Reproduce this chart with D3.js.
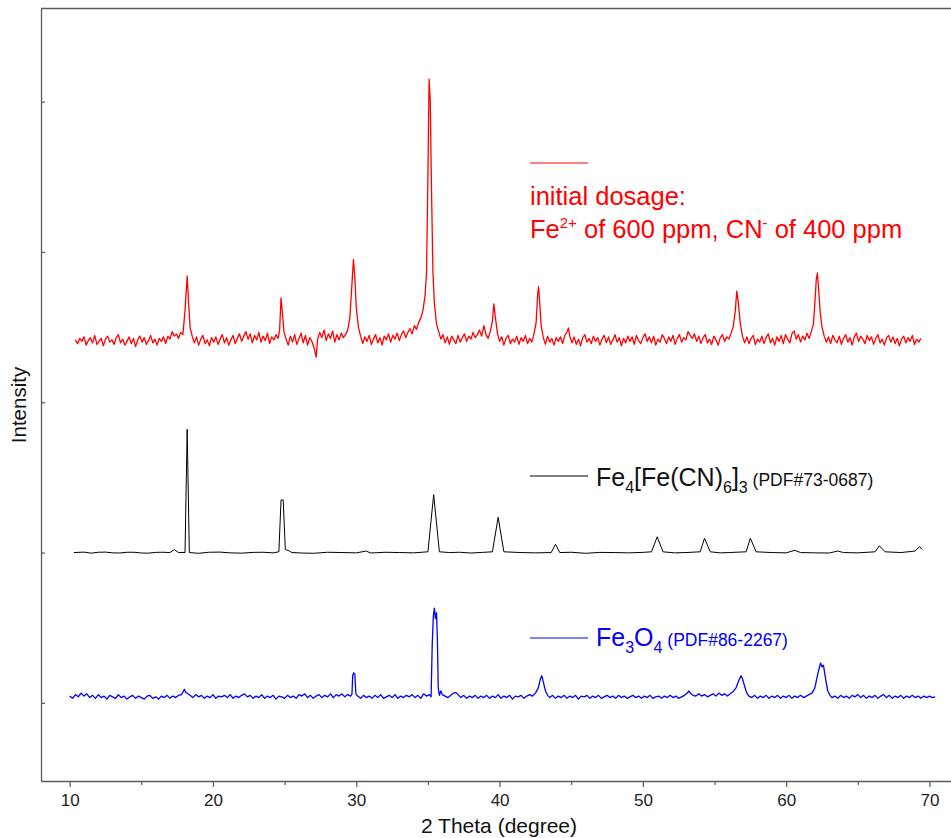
<!DOCTYPE html>
<html>
<head>
<script src="https://d3js.org/d3.v7.min.js"></script>
<style>
  body { margin: 0; background: #fff; }
  svg text { font-family: "Liberation Sans", Arial, sans-serif; }
</style>
</head>
<body>
<svg id="chart" width="951" height="838"></svg>
<script>
// XRD patterns, [2theta, intensity] pairs
var initialDosage = [[10.4,5],[10.55,-20],[10.7,15],[10.85,-5],[11.0,25],[11.15,-30],[11.3,0],[11.45,20],[11.6,-15],[11.75,35],[11.9,-25],[12.05,-5],[12.2,15],[12.35,-35],[12.5,10],[12.65,30],[12.8,-10],[12.95,5],[13.1,-25],[13.25,20],[13.4,40],[13.55,-15],[13.7,10],[13.85,-30],[14.0,-5],[14.15,25],[14.3,-20],[14.45,15],[14.6,-40],[14.75,5],[14.9,30],[15.05,-10],[15.2,20],[15.35,-25],[15.5,0],[15.65,35],[15.8,-15],[15.95,10],[16.1,-30],[16.25,15],[16.4,-5],[16.55,25],[16.7,-20],[16.85,30],[17.0,10],
[17.15,60],[17.3,30],[17.45,45],[17.6,15],[17.75,55],[17.9,40],[18.05,200],[18.2,430],[18.3,250],[18.4,90],[18.55,30],[18.7,-15],[18.85,25],[19.0,-30],[19.15,10],[19.3,35],[19.45,-20],[19.6,5],[19.75,-35],[19.9,20],[20.05,-10],[20.2,25],[20.35,-25],[20.5,10],[20.65,40],[20.8,-15],[20.95,20],[21.1,-30],[21.25,5],[21.4,35],[21.55,-20],[21.7,15],[21.85,45],[22.0,-5],[22.15,30],[22.3,60],[22.45,10],[22.6,45],[22.75,-15],[22.9,35],[23.05,5],[23.2,55],[23.35,-10],[23.5,30],[23.65,0],[23.8,50],[23.95,-20],[24.1,25],[24.25,5],[24.4,40],[24.55,15],[24.65,70],[24.75,285],[24.85,180],[24.95,60],[25.1,10],[25.25,-30],[25.4,30],[25.55,-10],[25.7,40],[25.85,-25],[26.0,15],[26.15,50],[26.3,-15],[26.45,35],[26.6,-30],[26.75,20],[26.9,-5],[27.05,-45],[27.2,-110],[27.3,10],[27.45,55],[27.6,20],[27.75,70],[27.9,0],[28.05,45],[28.2,15],[28.35,65],[28.5,-10],[28.65,40],[28.8,5],[28.95,50],[29.1,20],[29.25,40],[29.4,70],[29.55,150],[29.7,380],[29.8,540],[29.9,420],[30.0,220],[30.15,90],[30.3,30],[30.45,-20],[30.6,25],[30.75,-5],[30.9,35],[31.05,-25],[31.2,10],[31.35,40],[31.5,-15],[31.65,20],[31.8,-30],[31.95,30],[32.1,5],[32.25,45],[32.4,-10],[32.55,35],[32.7,10],[32.85,50],[33.0,0],[33.15,40],[33.3,65],[33.45,20],[33.6,55],[33.75,80],[33.9,45],[34.05,100],[34.2,75],[34.35,120],[34.5,150],[34.65,200],[34.8,300],[34.9,450],[35.0,1100],[35.08,1740],[35.16,1600],[35.25,1000],[35.35,450],[35.45,250],[35.6,110],[35.75,60],[35.9,10],[36.05,40],[36.2,-15],[36.35,25],[36.5,-25],[36.65,30],[36.8,5],[36.95,-20],[37.1,35],[37.25,-10],[37.4,20],[37.55,45],[37.7,-5],[37.85,30],[38.0,10],[38.15,55],[38.3,20],[38.45,40],[38.6,70],[38.75,30],[38.9,100],[39.05,40],[39.2,15],[39.35,60],[39.5,130],[39.6,245],[39.7,160],[39.85,50],[40.0,-5],[40.15,25],[40.3,-30],[40.45,15],[40.6,35],[40.75,-20],[40.9,10],[41.05,-10],[41.2,30],[41.35,-25],[41.5,20],[41.65,-5],[41.8,35],[41.95,-20],[42.1,15],[42.25,-10],[42.4,45],[42.55,120],[42.65,300],[42.72,360],[42.8,250],[42.9,100],[43.05,20],[43.2,-25],[43.35,30],[43.5,-10],[43.65,15],[43.8,-30],[43.95,20],[44.1,-5],[44.25,25],[44.4,-20],[44.55,35],[44.7,55],[44.8,85],[44.9,30],[45.05,-15],[45.2,25],[45.35,-25],[45.5,10],[45.65,-35],[45.8,20],[45.95,40],[46.1,-10],[46.25,15],[46.4,-20],[46.55,30],[46.7,-5],[46.85,20],[47.0,-30],[47.15,10],[47.3,35],[47.45,-15],[47.6,25],[47.75,-25],[47.9,5],[48.05,40],[48.2,-10],[48.35,20],[48.5,-35],[48.65,15],[48.8,-15],[48.95,30],[49.1,-5],[49.25,25],[49.4,-25],[49.55,35],[49.7,0],[49.85,-20],[50.0,20],[50.15,45],[50.3,-5],[50.45,25],[50.6,-15],[50.75,30],[50.9,-30],[51.05,10],[51.2,-10],[51.35,40],[51.5,15],[51.65,-20],[51.8,25],[51.95,-5],[52.1,35],[52.25,-25],[52.4,15],[52.55,40],[52.7,-10],[52.85,20],[53.0,5],[53.15,60],[53.3,35],[53.45,15],[53.6,45],[53.75,-5],[53.9,30],[54.05,-20],[54.2,20],[54.35,40],[54.5,-15],[54.65,10],[54.8,-25],[54.95,30],[55.1,5],[55.25,-30],[55.4,20],[55.55,40],[55.7,-5],[55.85,25],[56.0,10],[56.15,50],[56.3,90],[56.45,200],[56.55,330],[56.65,260],[56.8,110],[56.95,30],[57.1,-15],[57.25,25],[57.4,-20],[57.55,15],[57.7,35],[57.85,-25],[58.0,10],[58.15,-10],[58.3,30],[58.45,-20],[58.6,20],[58.75,45],[58.9,-15],[59.05,15],[59.2,-30],[59.35,25],[59.5,-5],[59.65,35],[59.8,-20],[59.95,40],[60.1,10],[60.25,-15],[60.4,45],[60.55,65],[60.7,10],[60.85,40],[61.0,-10],[61.15,30],[61.3,5],[61.45,50],[61.6,15],[61.75,60],[61.9,110],[62.0,250],[62.1,410],[62.18,450],[62.27,330],[62.38,180],[62.5,90],[62.65,30],[62.8,-10],[62.95,25],[63.1,-20],[63.25,35],[63.4,5],[63.55,-15],[63.7,30],[63.85,-25],[64.0,15],[64.15,40],[64.3,-10],[64.45,20],[64.6,-30],[64.75,25],[64.9,50],[65.05,-5],[65.2,30],[65.35,10],[65.5,-20],[65.65,35],[65.8,0],[65.95,25],[66.1,-25],[66.25,15],[66.4,40],[66.55,-15],[66.7,10],[66.85,-30],[67.0,20],[67.15,35],[67.3,-10],[67.45,25],[67.6,-20],[67.75,15],[67.9,-35],[68.05,10],[68.2,30],[68.35,-15],[68.5,20],[68.65,-5],[68.8,35],[68.95,-25],[69.1,10],[69.25,-10],[69.4,15]];

var prussianBlue = [[10.3,0],[11.0,3],[11.5,-4],[12.0,2],[12.5,3],[13.0,-2],[13.5,-3],[14.0,2],[14.5,2],[15.0,-3],[15.5,-4],[16.0,1],[16.5,2],[17.0,0],[17.3,20],[17.6,0],[18.05,0],[18.2,820],[18.35,0],[19.0,-5],[19.7,2],[20.5,3],[21.2,-2],[22.0,-4],[22.8,1],[23.5,2],[24.2,-2],[24.6,5],[24.75,350],[24.9,350],[25.05,20],[25.3,12],[25.5,0],[26.2,-3],[27.0,-5],[28.0,2],[29.0,0],[30.0,-2],[30.7,10],[31.0,-3],[32.0,2],[33.0,0],[34.0,-2],[35.0,5],[35.4,385],[35.8,5],[36.5,0],[37.2,2],[38.0,-3],[38.8,1],[39.5,5],[39.9,235],[40.3,5],[41.5,0],[42.5,-2],[43.6,0],[43.9,55],[44.2,0],[45.0,2],[46.0,-5],[47.0,1],[48.0,0],[49.0,-2],[50.0,1],[50.6,5],[51.0,105],[51.4,5],[52.2,-2],[53.0,0],[54.0,5],[54.3,95],[54.7,5],[55.4,-2],[56.0,0],[57.2,5],[57.5,95],[57.9,5],[59.0,0],[60.0,-2],[60.6,15],[61.0,0],[62.0,-2],[63.0,-3],[63.6,10],[64.0,0],[65.0,-2],[66.2,5],[66.5,45],[66.9,5],[68.0,0],[69.0,10],[69.3,40],[69.5,20]];

var magnetite = [[10.0,5],[10.2,-10],[10.4,15],[10.6,0],[10.8,25],[11.0,5],[11.2,20],[11.4,-5],[11.6,10],[11.8,-10],[12.0,15],[12.2,-5],[12.4,5],[12.6,-15],[12.8,10],[13.0,0],[13.2,-10],[13.4,15],[13.6,-5],[13.8,5],[14.0,-15],[14.2,0],[14.4,10],[14.6,-10],[14.8,5],[15.0,-5],[15.2,-15],[15.4,5],[15.6,10],[15.8,-10],[16.0,0],[16.2,-15],[16.4,5],[16.6,-5],[16.8,10],[17.0,-10],[17.2,5],[17.4,-5],[17.6,10],[17.8,15],[17.9,30],[18.0,50],[18.1,30],[18.25,20],[18.4,10],[18.6,-5],[18.8,15],[19.0,0],[19.2,10],[19.4,-10],[19.6,5],[19.8,-5],[20.0,15],[20.2,-10],[20.4,5],[20.6,0],[20.8,10],[21.0,-5],[21.2,15],[21.4,-10],[21.6,5],[21.8,-5],[22.0,10],[22.2,20],[22.4,0],[22.6,10],[22.8,-10],[23.0,5],[23.2,-5],[23.4,15],[23.6,-10],[23.8,5],[24.0,-5],[24.2,10],[24.4,-15],[24.6,5],[24.8,0],[25.0,-10],[25.2,10],[25.4,-5],[25.6,5],[25.8,-10],[26.0,15],[26.2,5],[26.4,20],[26.6,-5],[26.8,10],[27.0,-10],[27.2,5],[27.4,15],[27.6,-5],[27.8,10],[28.0,0],[28.2,20],[28.4,-5],[28.6,15],[28.8,5],[29.0,20],[29.2,0],[29.4,15],[29.6,5],[29.7,20],[29.75,140],[29.82,160],[29.9,150],[29.97,20],[30.1,5],[30.3,-10],[30.5,10],[30.7,-5],[30.9,5],[31.1,-10],[31.3,10],[31.5,-5],[31.7,15],[31.9,-10],[32.1,0],[32.3,10],[32.5,-5],[32.7,15],[32.9,-10],[33.1,5],[33.3,-5],[33.5,10],[33.7,0],[33.9,15],[34.1,-5],[34.3,10],[34.5,-10],[34.7,20],[34.9,5],[35.1,15],[35.22,0],[35.3,350],[35.38,540],[35.45,590],[35.52,520],[35.6,560],[35.66,380],[35.72,60],[35.8,10],[35.9,40],[36.0,15],[36.2,5],[36.4,-5],[36.6,10],[36.8,25],[36.95,30],[37.1,15],[37.3,-5],[37.5,10],[37.7,-10],[37.9,5],[38.1,-5],[38.3,10],[38.5,-10],[38.7,5],[38.9,-5],[39.1,10],[39.3,-10],[39.5,5],[39.7,-5],[39.9,15],[40.1,-10],[40.3,5],[40.5,-5],[40.7,10],[40.9,-15],[41.1,5],[41.3,0],[41.5,10],[41.7,-10],[41.9,5],[42.1,15],[42.3,5],[42.5,25],[42.7,60],[42.85,120],[42.95,140],[43.05,100],[43.2,40],[43.35,10],[43.5,-5],[43.7,10],[43.9,-10],[44.1,5],[44.3,-5],[44.5,10],[44.7,-10],[44.9,5],[45.1,-5],[45.3,10],[45.5,-15],[45.7,5],[45.9,0],[46.1,10],[46.3,-10],[46.5,5],[46.7,-5],[46.9,10],[47.1,-10],[47.3,0],[47.5,10],[47.7,-5],[47.9,5],[48.1,-10],[48.3,10],[48.5,-5],[48.7,5],[48.9,-10],[49.1,0],[49.3,10],[49.5,-5],[49.7,5],[49.9,-10],[50.1,5],[50.3,-5],[50.5,10],[50.7,-10],[50.9,0],[51.1,5],[51.3,-10],[51.5,5],[51.7,-5],[51.9,10],[52.1,-5],[52.3,5],[52.5,-10],[52.7,0],[52.9,10],[53.1,25],[53.2,40],[53.35,20],[53.5,10],[53.7,5],[53.9,20],[54.1,5],[54.3,15],[54.5,0],[54.7,10],[54.9,20],[55.1,5],[55.3,25],[55.5,10],[55.7,20],[55.9,5],[56.1,20],[56.3,35],[56.5,60],[56.7,110],[56.85,140],[56.95,120],[57.1,70],[57.25,25],[57.4,5],[57.6,-5],[57.8,10],[58.0,-10],[58.2,5],[58.4,-5],[58.6,10],[58.8,-10],[59.0,5],[59.2,-5],[59.4,10],[59.6,-10],[59.8,5],[60.0,-5],[60.2,10],[60.4,-10],[60.6,5],[60.8,-5],[61.0,10],[61.2,-5],[61.4,5],[61.6,15],[61.8,25],[62.0,60],[62.15,130],[62.3,190],[62.4,225],[62.5,200],[62.6,210],[62.75,120],[62.9,40],[63.05,10],[63.2,-5],[63.4,5],[63.6,-10],[63.8,10],[64.0,-5],[64.2,5],[64.4,-10],[64.6,10],[64.8,0],[65.0,15],[65.2,-5],[65.4,10],[65.6,-10],[65.8,5],[66.0,-5],[66.2,10],[66.4,-10],[66.6,5],[66.8,15],[67.0,-5],[67.2,10],[67.4,-10],[67.6,5],[67.8,-5],[68.0,10],[68.2,-10],[68.4,5],[68.6,-5],[68.8,10],[69.0,-5],[69.2,5],[69.4,-10],[69.6,5],[69.8,-5],[70.0,5],[70.2,-5],[70.4,0]];

// vertical offsets used to stack the three patterns
var offsets = [2410, 1000, 40];
var xTicks = [10, 20, 30, 40, 50, 60, 70];
var xMinorTicks = [15, 25, 35, 45, 55, 65];
var yTicks = [0, 1000, 2000, 3000, 4000];

var svg = d3.select("#chart");
var plotLeft = 41, plotRight = 951, plotTop = 8.5, plotBottom = 781;

var x = d3.scaleLinear().domain([8, 71.5]).range([plotLeft, plotRight]);
var y = d3.scaleLinear().domain([-520, 4620]).range([plotBottom, plotTop]);

var axisColor = "#5a5a5a";

// frame
svg.append("line").attr("x1", plotLeft).attr("x2", plotRight).attr("y1", plotTop).attr("y2", plotTop)
  .attr("stroke", axisColor).attr("stroke-width", 1.3);

// x axis
var xAxis = svg.append("g").attr("transform", "translate(0," + plotBottom + ")")
  .call(d3.axisBottom(x).tickValues(xTicks).tickSize(6).tickSizeOuter(0).tickPadding(7));
svg.append("g").attr("transform", "translate(0," + plotBottom + ")")
  .call(d3.axisBottom(x).tickValues(xMinorTicks).tickSize(4).tickSizeOuter(0).tickFormat(""))
  .select(".domain").remove();
xAxis.selectAll("text").attr("font-size", 17).attr("fill", "#222")
  .style("font-family", "'Liberation Sans', Arial, sans-serif");

// y axis, ticks inside, no labels
svg.append("g").attr("transform", "translate(" + plotLeft + ",0)")
  .call(d3.axisRight(y).tickValues(yTicks).tickSize(4).tickSizeOuter(0).tickFormat(""));

svg.selectAll(".domain").attr("stroke", axisColor).attr("stroke-width", 1.3);
svg.selectAll(".tick line").attr("stroke", axisColor).attr("stroke-width", 1.2);

// axis titles
svg.append("text").attr("x", 499).attr("y", 833).attr("text-anchor", "middle")
  .attr("font-size", 21).attr("fill", "#111").text("2 Theta (degree)");
svg.append("text").attr("transform", "translate(26,405) rotate(-90)").attr("text-anchor", "middle")
  .attr("font-size", 20.5).attr("fill", "#111").text("Intensity");

// traces
var series = [
  { data: initialDosage, color: "#ff0000", width: 1.3 },
  { data: prussianBlue, color: "#000000", width: 1 },
  { data: magnetite, color: "#0000ff", width: 1.3 }
];
series.forEach(function (s, i) {
  var line = d3.line()
    .x(function (d) { return x(d[0]); })
    .y(function (d) { return y(d[1] + offsets[i]); });
  svg.append("path").datum(s.data).attr("d", line)
    .attr("fill", "none").attr("stroke", s.color)
    .attr("stroke-width", s.width).attr("stroke-linejoin", "round");
});

// legends
var lx1 = 530, lx2 = 588;
svg.append("line").attr("x1", lx1).attr("x2", lx2).attr("y1", 163).attr("y2", 163)
  .attr("stroke", "#ff0000").attr("stroke-width", 1);
svg.append("text").attr("x", 530).attr("y", 205).attr("font-size", 25.5).attr("fill", "#ff0000")
  .text("initial dosage:");
var t2 = svg.append("text").attr("x", 530).attr("y", 238).attr("font-size", 25.5).attr("fill", "#ff0000");
t2.append("tspan").text("Fe");
t2.append("tspan").attr("font-size", 15).attr("dy", -10).text("2+");
t2.append("tspan").attr("dy", 10).text(" of 600 ppm, CN");
t2.append("tspan").attr("font-size", 15).attr("dy", -10).text("-");
t2.append("tspan").attr("dy", 10).text(" of 400 ppm");

svg.append("line").attr("x1", lx1).attr("x2", lx2).attr("y1", 476).attr("y2", 476)
  .attr("stroke", "#000").attr("stroke-width", 1);
var t3 = svg.append("text").attr("x", 596).attr("y", 486).attr("font-size", 25).attr("fill", "#111");
t3.append("tspan").text("Fe");
t3.append("tspan").attr("font-size", 16).attr("dy", 7).text("4");
t3.append("tspan").attr("dy", -7).text("[Fe(CN)");
t3.append("tspan").attr("font-size", 16).attr("dy", 7).text("6");
t3.append("tspan").attr("dy", -7).text("]");
t3.append("tspan").attr("font-size", 16).attr("dy", 7).text("3");
t3.append("tspan").attr("font-size", 17.5).attr("dy", -7).text(" (PDF#73-0687)");

svg.append("line").attr("x1", lx1).attr("x2", lx2).attr("y1", 638).attr("y2", 638)
  .attr("stroke", "#0000ff").attr("stroke-width", 1);
var t4 = svg.append("text").attr("x", 596).attr("y", 646).attr("font-size", 25).attr("fill", "#0000ff");
t4.append("tspan").text("Fe");
t4.append("tspan").attr("font-size", 16).attr("dy", 7).text("3");
t4.append("tspan").attr("dy", -7).text("O");
t4.append("tspan").attr("font-size", 16).attr("dy", 7).text("4");
t4.append("tspan").attr("font-size", 17.5).attr("dy", -7).text(" (PDF#86-2267)");
</script>
</body>
</html>
